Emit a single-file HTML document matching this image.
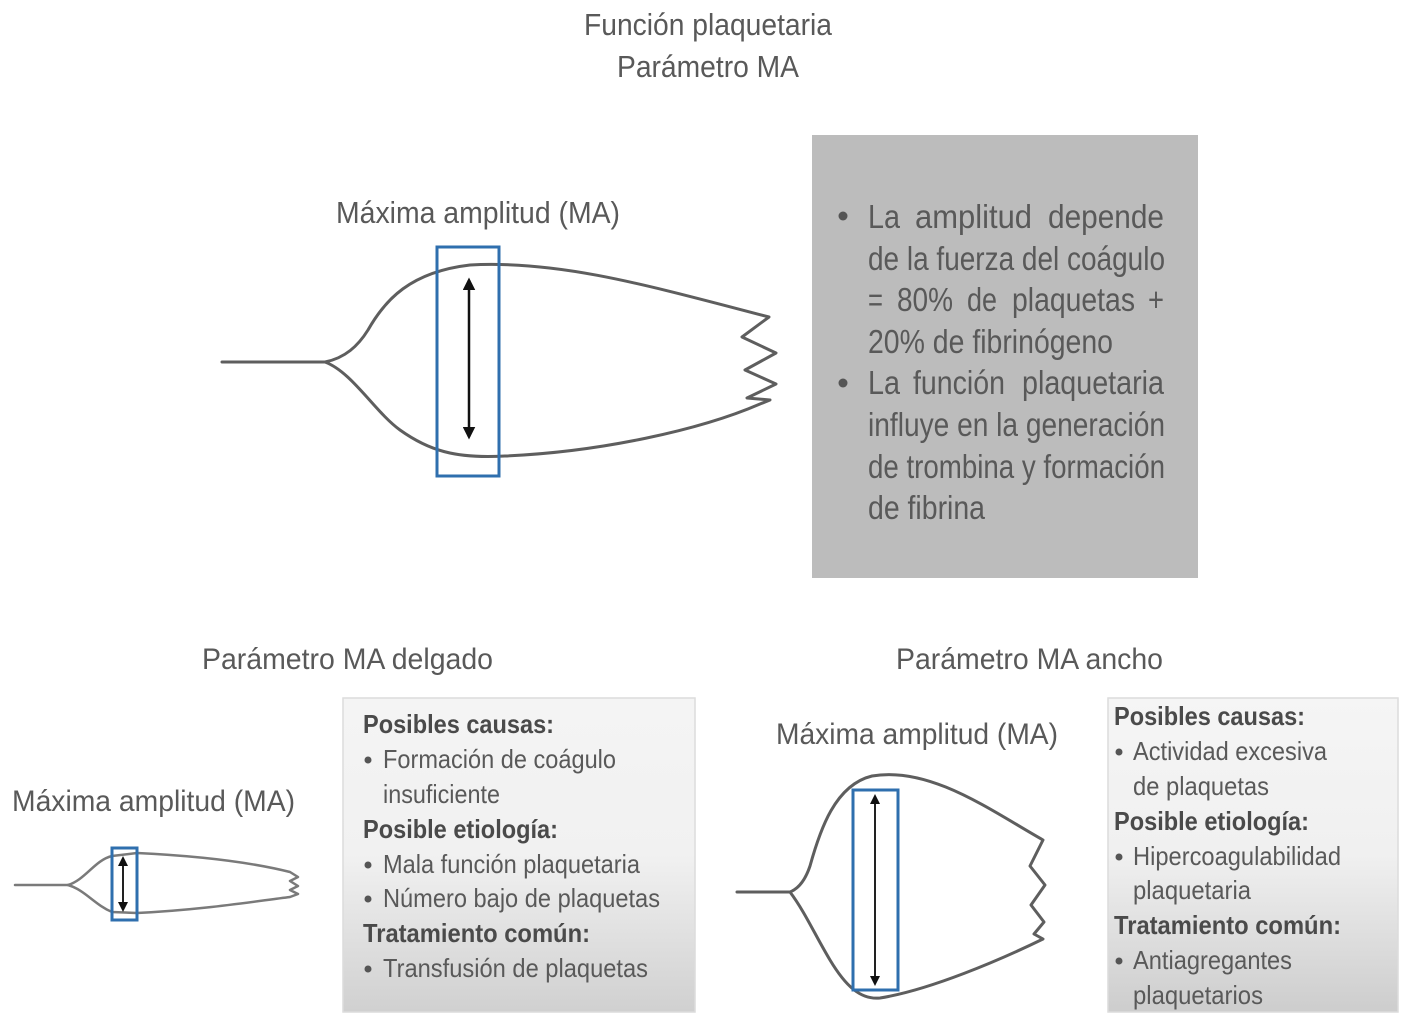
<!DOCTYPE html>
<html>
<head>
<meta charset="utf-8">
<style>
html,body{margin:0;padding:0;background:#fff;}
svg{display:block;}
text{font-family:"Liberation Sans Narrow","Liberation Sans",sans-serif;fill:#595959;}
.b{font-weight:bold;fill:#4a4a4a;}
</style>
</head>
<body>
<svg width="1416" height="1024" viewBox="0 0 1416 1024" xmlns="http://www.w3.org/2000/svg">
<defs>
<marker id="ah" viewBox="0 0 10 10" refX="8" refY="5" markerWidth="5" markerHeight="5" orient="auto-start-reverse">
<path d="M0,0 L10,5 L0,10 z" fill="#111"/>
</marker>
<linearGradient id="g1" x1="0" y1="0" x2="0" y2="1">
<stop offset="0" stop-color="#f4f4f4"/>
<stop offset="0.5" stop-color="#f1f1f1"/>
<stop offset="1" stop-color="#d0d0d0"/>
</linearGradient>
<linearGradient id="g2" x1="0" y1="0" x2="0" y2="1">
<stop offset="0" stop-color="#f5f5f5"/>
<stop offset="0.5" stop-color="#f0f0f0"/>
<stop offset="1" stop-color="#cdcdcd"/>
</linearGradient>
</defs>

<!-- Titles -->
<text x="584" y="35" font-size="31" textLength="248" lengthAdjust="spacingAndGlyphs">Función plaquetaria</text>
<text x="617" y="77" font-size="31" textLength="182" lengthAdjust="spacingAndGlyphs">Parámetro MA</text>

<!-- Top diagram -->
<text x="336" y="223" font-size="31" textLength="284" lengthAdjust="spacingAndGlyphs">Máxima amplitud (MA)</text>
<g fill="none" stroke="#5e5e5e" stroke-width="3" stroke-linejoin="round" stroke-linecap="round">
<path d="M222,362 L325,362"/>
<path d="M325,362 C345,358 358,346 368,330 C385,300 410,272 470,265 C560,260 650,286 769,317 L742,337 L776,353 L745,370 L776,384 L747,398 L770,400 L760,404 C700,430 600,452 505,456 C455,459 428,450 400,430 C375,412 352,372 325,362"/>
</g>
<rect x="437" y="247" width="62" height="229" fill="none" stroke="#2f6fae" stroke-width="3"/>
<line x1="469" y1="280" x2="469" y2="437" stroke="#111" stroke-width="2.5" marker-start="url(#ah)" marker-end="url(#ah)"/>

<!-- Grey box -->
<rect x="812" y="135" width="386" height="443" fill="#bcbcbc"/>
<circle cx="843" cy="216" r="4.5" fill="#555"/>
<circle cx="843" cy="383" r="4.5" fill="#555"/>
<g font-size="33">
<text x="868" y="228" textLength="32" lengthAdjust="spacingAndGlyphs">La</text>
<text x="915" y="228" textLength="117" lengthAdjust="spacingAndGlyphs">amplitud</text>
<text x="1048" y="228" textLength="116" lengthAdjust="spacingAndGlyphs">depende</text>
<text x="868" y="270" textLength="297" lengthAdjust="spacingAndGlyphs">de la fuerza del coágulo</text>
<text x="868" y="311" textLength="15" lengthAdjust="spacingAndGlyphs">=</text>
<text x="897" y="311" textLength="56" lengthAdjust="spacingAndGlyphs">80%</text>
<text x="967" y="311" textLength="30" lengthAdjust="spacingAndGlyphs">de</text>
<text x="1012" y="311" textLength="123" lengthAdjust="spacingAndGlyphs">plaquetas</text>
<text x="1148" y="311" textLength="16" lengthAdjust="spacingAndGlyphs">+</text>
<text x="868" y="353" textLength="245" lengthAdjust="spacingAndGlyphs">20% de fibrinógeno</text>
<text x="868" y="394" textLength="32" lengthAdjust="spacingAndGlyphs">La</text>
<text x="913" y="394" textLength="92" lengthAdjust="spacingAndGlyphs">función</text>
<text x="1022" y="394" textLength="142" lengthAdjust="spacingAndGlyphs">plaquetaria</text>
<text x="868" y="436" textLength="297" lengthAdjust="spacingAndGlyphs">influye en la generación</text>
<text x="868" y="478" textLength="297" lengthAdjust="spacingAndGlyphs">de trombina y formación</text>
<text x="868" y="519" textLength="117" lengthAdjust="spacingAndGlyphs">de fibrina</text>
</g>

<!-- Bottom headings -->
<text x="202" y="669" font-size="30" textLength="291" lengthAdjust="spacingAndGlyphs">Parámetro MA delgado</text>
<text x="896" y="669" font-size="30" textLength="267" lengthAdjust="spacingAndGlyphs">Parámetro MA ancho</text>

<!-- Bottom-left diagram -->
<text x="12" y="811" font-size="30" textLength="283" lengthAdjust="spacingAndGlyphs">Máxima amplitud (MA)</text>
<g fill="none" stroke="#7a7a7a" stroke-width="2.5" stroke-linejoin="round" stroke-linecap="round">
<path d="M15,885 L68,885"/>
<path d="M68,885 C85,880 95,860 112,856 L137,853 C200,856 250,862 290,872 L298,877 L290,881 L298,886 L290,890 L298,894 L290,897 C250,902 200,910 137,913 L112,912 C95,905 85,890 68,885"/>
</g>
<rect x="112" y="848" width="25" height="72" fill="none" stroke="#2f6fae" stroke-width="3"/>
<line x1="123" y1="858" x2="123" y2="910" stroke="#222" stroke-width="2" marker-start="url(#ah)" marker-end="url(#ah)"/>

<!-- Bottom-left box -->
<rect x="343" y="698" width="352" height="314" fill="url(#g1)" stroke="#dcdcdc" stroke-width="1.5"/>
<g font-size="26">
<text class="b" x="363" y="733" textLength="191" lengthAdjust="spacingAndGlyphs">Posibles causas:</text>
<text x="383" y="768" textLength="233" lengthAdjust="spacingAndGlyphs">Formación de coágulo</text>
<text x="383" y="803" textLength="117" lengthAdjust="spacingAndGlyphs">insuficiente</text>
<text class="b" x="363" y="838" textLength="195" lengthAdjust="spacingAndGlyphs">Posible etiología:</text>
<text x="383" y="873" textLength="257" lengthAdjust="spacingAndGlyphs">Mala función plaquetaria</text>
<text x="383" y="907" textLength="277" lengthAdjust="spacingAndGlyphs">Número bajo de plaquetas</text>
<text class="b" x="363" y="942" textLength="227" lengthAdjust="spacingAndGlyphs">Tratamiento común:</text>
<text x="383" y="977" textLength="265" lengthAdjust="spacingAndGlyphs">Transfusión de plaquetas</text>
</g>
<g fill="#555">
<circle cx="368" cy="760" r="3.5"/>
<circle cx="368" cy="865" r="3.5"/>
<circle cx="368" cy="899" r="3.5"/>
<circle cx="368" cy="969" r="3.5"/>
</g>

<!-- Bottom-right diagram -->
<text x="776" y="744" font-size="30" textLength="282" lengthAdjust="spacingAndGlyphs">Máxima amplitud (MA)</text>
<g fill="none" stroke="#5e5e5e" stroke-width="3" stroke-linejoin="round" stroke-linecap="round">
<path d="M737,892 L790,892"/>
<path d="M790,892 C800,888 806,878 810,866 C820,830 835,785 872,776 C930,766 990,810 1043,840 L1030,866 L1045,885 L1031,905 L1044,922 L1034,934 L1043,939 C1000,960 930,990 880,998 C860,1000 845,985 830,960 C815,935 805,912 790,892"/>
</g>
<rect x="853" y="790" width="45" height="200" fill="none" stroke="#2f6fae" stroke-width="3"/>
<line x1="875" y1="796" x2="875" y2="984" stroke="#222" stroke-width="2" marker-start="url(#ah)" marker-end="url(#ah)"/>

<!-- Bottom-right box -->
<rect x="1108" y="698" width="290" height="314" fill="url(#g2)" stroke="#dcdcdc" stroke-width="1.5"/>
<g font-size="26">
<text class="b" x="1114" y="725" textLength="191" lengthAdjust="spacingAndGlyphs">Posibles causas:</text>
<text x="1133" y="760" textLength="194" lengthAdjust="spacingAndGlyphs">Actividad excesiva</text>
<text x="1133" y="795" textLength="136" lengthAdjust="spacingAndGlyphs">de plaquetas</text>
<text class="b" x="1114" y="830" textLength="195" lengthAdjust="spacingAndGlyphs">Posible etiología:</text>
<text x="1133" y="865" textLength="208" lengthAdjust="spacingAndGlyphs">Hipercoagulabilidad</text>
<text x="1133" y="899" textLength="118" lengthAdjust="spacingAndGlyphs">plaquetaria</text>
<text class="b" x="1114" y="934" textLength="227" lengthAdjust="spacingAndGlyphs">Tratamiento común:</text>
<text x="1133" y="969" textLength="159" lengthAdjust="spacingAndGlyphs">Antiagregantes</text>
<text x="1133" y="1004" textLength="130" lengthAdjust="spacingAndGlyphs">plaquetarios</text>
</g>
<g fill="#555">
<circle cx="1119" cy="752" r="3.5"/>
<circle cx="1119" cy="857" r="3.5"/>
<circle cx="1119" cy="961" r="3.5"/>
</g>
</svg>
</body>
</html>
